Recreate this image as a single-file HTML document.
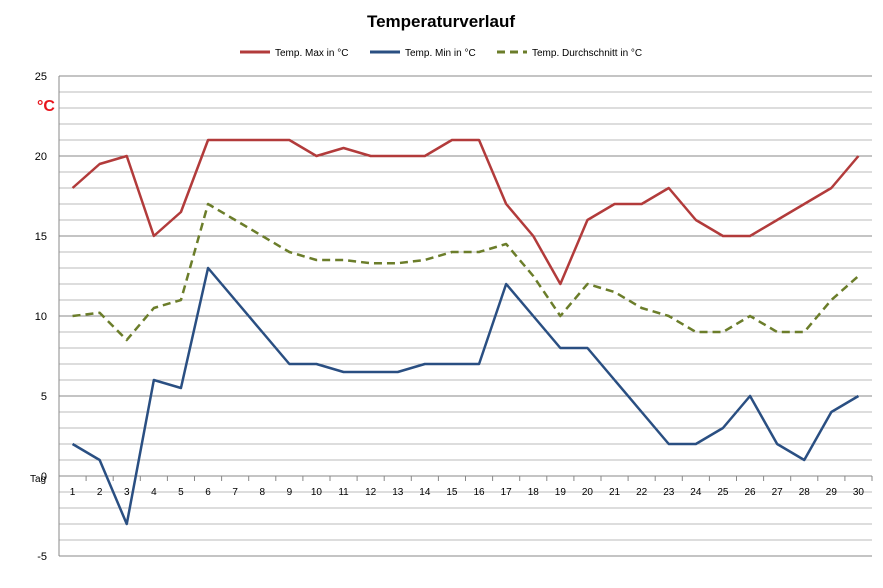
<!DOCTYPE html>
<html><head><meta charset="utf-8"><style>
body{margin:0;background:#fff;width:883px;height:583px;overflow:hidden;font-family:"Liberation Sans",sans-serif}
</style></head><body>
<svg id="s" width="883" height="583" xmlns="http://www.w3.org/2000/svg" font-family="Liberation Sans, sans-serif">
<text x="441" y="27" text-anchor="middle" font-size="17" font-weight="bold">Temperaturverlauf</text>
<line x1="240" y1="52" x2="270" y2="52" stroke="#b23b3b" stroke-width="3"/>
<text x="275" y="56" font-size="10">Temp. Max in °C</text>
<line x1="370" y1="52" x2="400" y2="52" stroke="#2a4f82" stroke-width="3"/>
<text x="405" y="56" font-size="10">Temp. Min in °C</text>
<line x1="497" y1="52" x2="527" y2="52" stroke="#6b7d2a" stroke-width="3" stroke-dasharray="8,5"/>
<text x="532" y="56" font-size="10">Temp. Durchschnitt in °C</text>
<text x="37" y="111" font-size="16" font-weight="bold" fill="#e8141c">°C</text>
<g id="g"></g>
</svg>
<script>
var g=document.getElementById('g'),h='';
var L=59,R=872,T=76,U=16;function Y(v){return T+(25-v)*U}function X(i){return L+(R-L)/30*(i+0.5)}
for(var v=-5;v<=25;v++){var maj=v%5==0;h+='<line x1="'+L+'" x2="'+R+'" y1="'+Y(v)+'" y2="'+Y(v)+'" stroke="'+(maj?'#888':'#bbb')+'" stroke-width="1"/>';
if(maj)h+='<text x="47" y="'+(Y(v)+4)+'" font-size="11" text-anchor="end">'+v+'</text>';}
h+='<line x1="'+L+'" x2="'+L+'" y1="'+T+'" y2="'+Y(-5)+'" stroke="#888"/>';
h+='<line x1="'+L+'" x2="'+R+'" y1="'+Y(0)+'" y2="'+Y(0)+'" stroke="#888"/>';
for(var i=0;i<=30;i++){var x=L+(R-L)/30*i;h+='<line x1="'+x+'" x2="'+x+'" y1="'+Y(0)+'" y2="'+(Y(0)+5)+'" stroke="#888"/>';}
for(var i=0;i<30;i++)h+='<text x="'+X(i)+'" y="'+(Y(0)+19)+'" font-size="10" text-anchor="middle">'+(i+1)+'</text>';
h+='<text x="30" y="'+(Y(0)+6)+'" font-size="10">Tag</text>';
var mx=[18,19.5,20,15,16.5,21,21,21,21,20,20.5,20,20,20,21,21,17,15,12,16,17,17,18,16,15,15,16,17,18,20];
var mn=[2,1,-3,6,5.5,13,11,9,7,7,6.5,6.5,6.5,7,7,7,12,10,8,8,6,4,2,2,3,5,2,1,4,5];
var av=[10,10.2,8.5,10.5,11,17,16,15,14,13.5,13.5,13.3,13.3,13.5,14,14,14.5,12.5,10,12,11.5,10.5,10,9,9,10,9,9,11,12.5];
function P(a,c,d){h+='<polyline fill="none" stroke="'+c+'" stroke-width="2.5" stroke-linejoin="round" '+(d?'stroke-dasharray="8,5"':'')+' points="'+a.map(function(v,i){return X(i)+','+Y(v)}).join(' ')+'"/>';}
P(mx,'#b23b3b');P(mn,'#2a4f82');P(av,'#6b7d2a',1);
g.innerHTML=h;
</script>
</body></html>
